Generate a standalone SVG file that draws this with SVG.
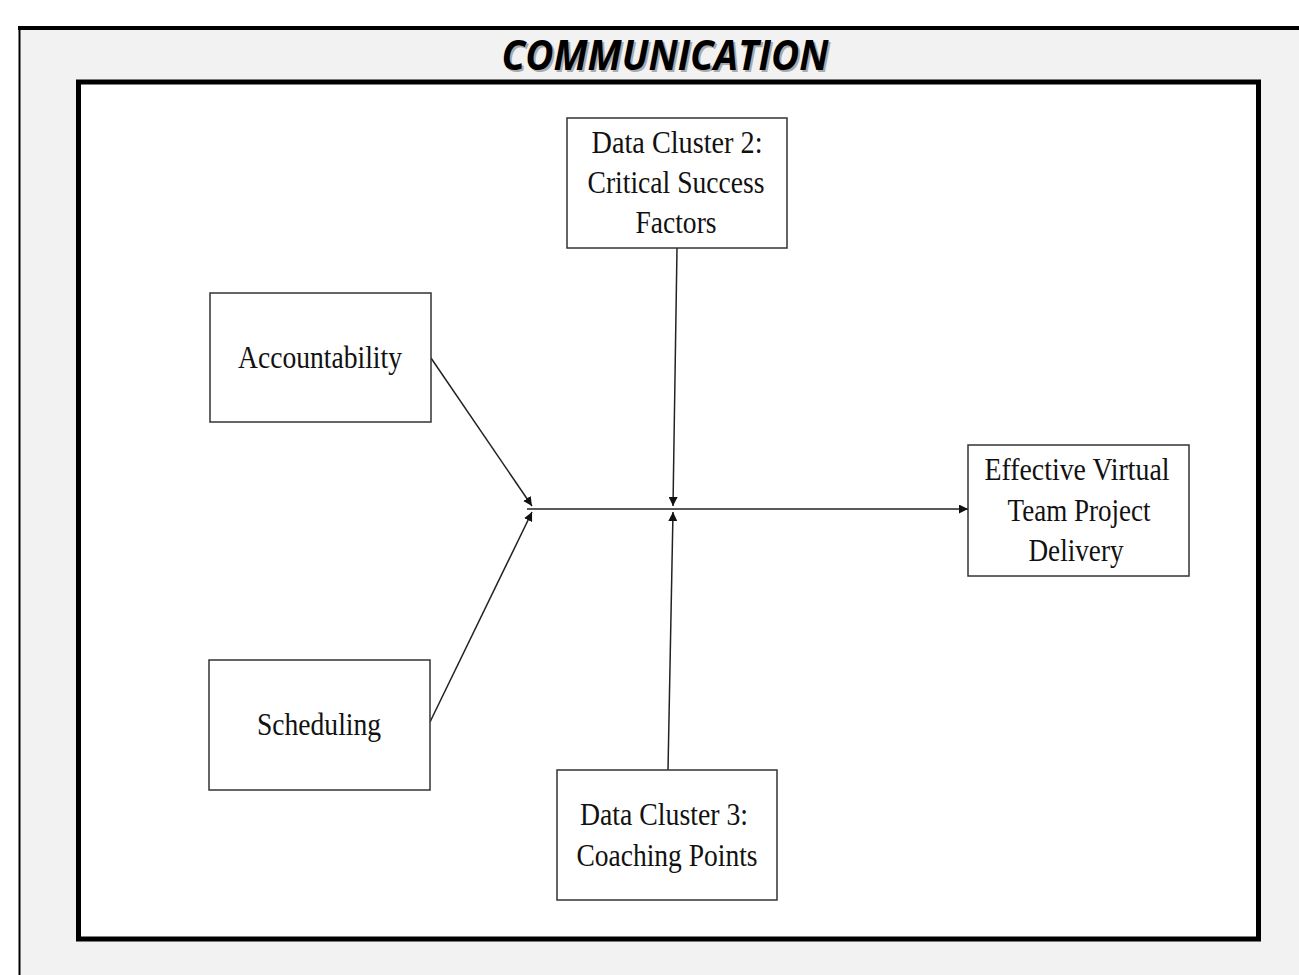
<svg xmlns="http://www.w3.org/2000/svg" width="1299" height="975" viewBox="0 0 1299 975">
<style>
.box{fill:#fff;stroke:#333;stroke-width:1.5}
.t{font-family:"Liberation Serif","Times New Roman","DejaVu Serif",serif;font-size:32px;fill:#111;text-anchor:middle}
.c{stroke:#222;stroke-width:1.5;fill:none;marker-end:url(#ah)}
.title{font-family:"Open Sans","DejaVu Sans",sans-serif;font-weight:bold;font-style:italic;font-size:42px;text-anchor:middle}
</style>
<defs>
<marker id="ah" viewBox="0 0 10 10" refX="10" refY="5" markerWidth="9" markerHeight="9" markerUnits="userSpaceOnUse" orient="auto">
<path d="M0,0 L10,5 L0,10 z" fill="#111"/>
</marker>
</defs>
<rect width="1299" height="975" fill="#fff"/>
<g id="frame">
<rect x="20" y="28" width="1290" height="960" fill="#f2f2f2"/>
<line x1="18" y1="28" x2="1299" y2="28" stroke="#000" stroke-width="4"/>
<line x1="19.5" y1="26" x2="19.5" y2="975" stroke="#000" stroke-width="2"/>
<rect x="78.5" y="82" width="1180" height="857" fill="#fff" stroke="#000" stroke-width="5"/>
</g>
<g id="title">
<text class="title" x="667" y="72" fill="#aaa" textLength="327" lengthAdjust="spacingAndGlyphs">COMMUNICATION</text>
<text class="title" x="665" y="70" fill="#000" textLength="327" lengthAdjust="spacingAndGlyphs">COMMUNICATION</text>
</g>
<g id="connectors">
<line class="c" x1="431" y1="358" x2="532" y2="506"/>
<line class="c" x1="430" y1="722" x2="532" y2="512"/>
<line class="c" x1="527" y1="509" x2="968" y2="509"/>
<line class="c" x1="677" y1="248" x2="673" y2="506"/>
<line class="c" x1="668" y1="770" x2="673" y2="512"/>
</g>
<g id="dc2">
<rect class="box" x="567" y="118" width="220" height="130"/>
<text class="t" x="677" y="153" textLength="171" lengthAdjust="spacingAndGlyphs">Data Cluster 2:</text>
<text class="t" x="676" y="193" textLength="177" lengthAdjust="spacingAndGlyphs">Critical Success</text>
<text class="t" x="676" y="233" textLength="81" lengthAdjust="spacingAndGlyphs">Factors</text>
</g>
<g id="accountability">
<rect class="box" x="210" y="293" width="221" height="129"/>
<text class="t" x="320" y="368" textLength="164" lengthAdjust="spacingAndGlyphs">Accountability</text>
</g>
<g id="scheduling">
<rect class="box" x="209" y="660" width="221" height="130"/>
<text class="t" x="319" y="735" textLength="124" lengthAdjust="spacingAndGlyphs">Scheduling</text>
</g>
<g id="dc3">
<rect class="box" x="557" y="770" width="220" height="130"/>
<text class="t" x="664" y="825" textLength="168" lengthAdjust="spacingAndGlyphs">Data Cluster 3:</text>
<text class="t" x="667" y="866" textLength="181" lengthAdjust="spacingAndGlyphs">Coaching Points</text>
</g>
<g id="effective">
<rect class="box" x="968" y="445" width="221" height="131"/>
<text class="t" x="1077" y="480" textLength="185" lengthAdjust="spacingAndGlyphs">Effective Virtual</text>
<text class="t" x="1079" y="521" textLength="143" lengthAdjust="spacingAndGlyphs">Team Project</text>
<text class="t" x="1076" y="561" textLength="95" lengthAdjust="spacingAndGlyphs">Delivery</text>
</g>
</svg>
